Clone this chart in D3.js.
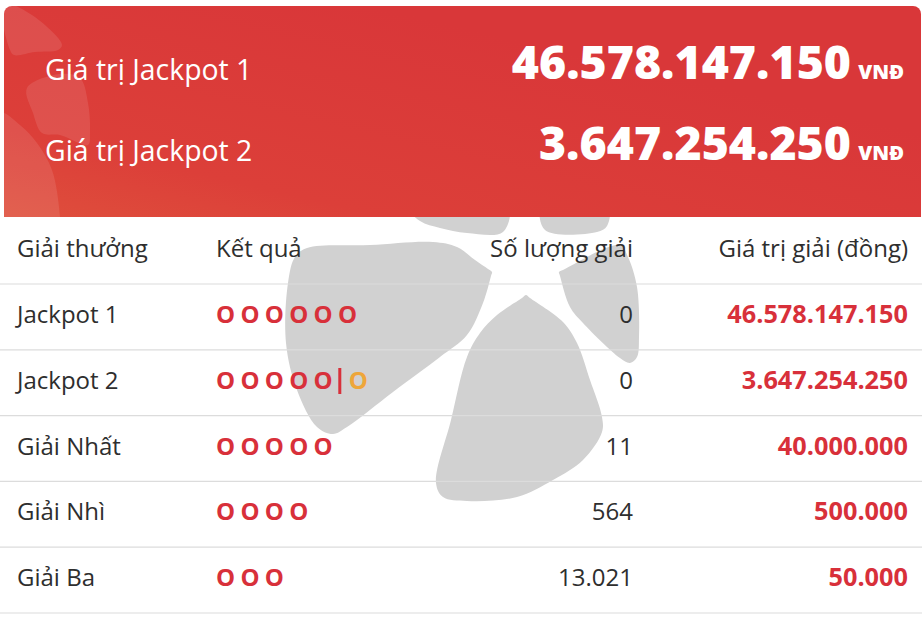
<!DOCTYPE html>
<html>
<head>
<meta charset="utf-8">
<script src="https://cdn.jsdelivr.net/npm/d3@7"></script>
<style>
  html, body { margin: 0; padding: 0; background: #fff; overflow: hidden; }
  svg { display: block; font-family: "Open Sans", sans-serif; }
</style>
</head>
<body>
<script>
const jackpotLabels = ['Giá trị Jackpot 1', 'Giá trị Jackpot 2']
const jackpotValues = ['46.578.147.150', '3.647.254.250']
const currency = 'VNĐ'

const headers = ['Giải thưởng', 'Kết quả', 'Số lượng giải', 'Giá trị giải (đồng)']
const prizes = ['Jackpot 1', 'Jackpot 2', 'Giải Nhất', 'Giải Nhì', 'Giải Ba']
const mainBalls = [6, 5, 5, 4, 3]
const bonusBalls = [0, 1, 0, 0, 0]
const counts = ['0', '0', '11', '564', '13.021']
const amounts = ['46.578.147.150', '3.647.254.250', '40.000.000', '500.000', '50.000']

const width = 922
const height = 620
const red = '#d8303a'
const orange = '#eea63a'
const ink = '#2e2e2e'

const svg = d3.select('body').append('svg')
  .attr('width', width)
  .attr('height', height)

// 比例尺
const rowY = d3.scaleBand().domain(prizes).range([284, 613])
const ballX = d3.scaleLinear().domain([0, 1]).range([216, 240.4])
const headerY = d3.scaleBand().domain(jackpotLabels).range([39, 201])

const blob = d3.line().curve(d3.curveCatmullRomClosed.alpha(0.5))

// 背景 watermark
const watermark = [
  [[405,205],[420,221],[440,228],[467,233],[503,232],[508,205]],
  [[542,205],[545,230],[597,232],[607,226],[608,205]],
  [[307,248],[370,245],[433,242],[457,247],[475,260],[488,269],[492,272],[491,276],[483,303],[467,335],[440,357],[393,392],[347,427],[333,434],[317,427],[297,390],[286,343],[288,283],[295,257]],
  [[522,298],[526,295],[530,298],[563,322],[577,343],[590,380],[602,417],[602,432],[583,460],[553,480],[517,497],[467,501],[443,497],[436,483],[451,420],[467,357],[480,333],[497,315]],
  [[559,272],[563,270],[620,245],[628,257],[637,287],[639,337],[637,357],[630,363],[620,358],[583,323],[570,307],[560,276]]
]
svg.append('g').selectAll('path')
  .data(watermark)
  .join('path')
  .attr('d', blob)
  .attr('fill', '#d1d1d1')

// banner
const defs = svg.append('defs')
const grad = defs.append('linearGradient')
  .attr('id', 'banner')
  .attr('x1', '0%').attr('y1', '100%')
  .attr('x2', '70%').attr('y2', '30%')
grad.append('stop').attr('offset', '0%').attr('stop-color', '#df4f3c')
grad.append('stop').attr('offset', '30%').attr('stop-color', '#dc3f39')
grad.append('stop').attr('offset', '100%').attr('stop-color', '#d93739')

defs.append('clipPath').attr('id', 'bannerClip')
  .append('path')
  .attr('d', 'M4,217V14a8,8 0 0 1 8,-8H913a8,8 0 0 1 8,8V217Z')

const banner = svg.append('g').attr('clip-path', 'url(#bannerClip)')
banner.append('rect')
  .attr('x', 4).attr('y', 6)
  .attr('width', 917).attr('height', 211)
  .attr('fill', 'url(#banner)')

const bannerPetals = [
  [[2,2],[20,8],[45,25],[62,45],[58,50],[35,52],[14,55],[10,50]],
  [[27,88],[60,74],[80,78],[88,103],[90,133],[88,145],[60,135],[42,133],[33,113]],
  [[0,113],[20,125],[37,143],[52,170],[60,217],[60,240],[0,240]]
]
banner.append('g').selectAll('path')
  .data(bannerPetals)
  .join('path')
  .attr('d', blob)
  .attr('fill', '#fff')
  .attr('fill-opacity', 0.1)

const jackpot = svg.append('g').selectAll('g')
  .data(jackpotLabels)
  .join('g')
  .attr('transform', d => `translate(0,${headerY(d) + headerY.bandwidth() / 2})`)
  .attr('fill', '#fff')

jackpot.append('text')
  .attr('x', 45).attr('y', 0.5)
  .attr('font-size', 28.4)
  .text(d => d)

jackpot.append('text')
  .attr('x', 851).attr('y', -0.5)
  .attr('text-anchor', 'end')
  .attr('font-size', 46.4)
  .attr('font-weight', 800)
  .text((d, i) => jackpotValues[i])

jackpot.append('text')
  .attr('x', 904).attr('y', -1)
  .attr('text-anchor', 'end')
  .attr('font-size', 20.2)
  .attr('font-weight', 800)
  .text(currency)

// 表头
const headerAttrs = [
  { x: 17, anchor: 'start' },
  { x: 216, anchor: 'start' },
  { x: 633, anchor: 'end' },
  { x: 908, anchor: 'end' }
]
svg.append('g').selectAll('text')
  .data(headers)
  .join('text')
  .attr('x', (d, i) => headerAttrs[i].x)
  .attr('y', 257)
  .attr('text-anchor', (d, i) => headerAttrs[i].anchor)
  .attr('font-size', 24)
  .attr('fill', ink)
  .text(d => d)

// 分隔线
svg.append('g').selectAll('line')
  .data(prizes.map(p => rowY(p)).concat(rowY.range()[1]))
  .join('line')
  .attr('x1', 0).attr('x2', width)
  .attr('y1', d => d).attr('y2', d => d)
  .attr('stroke', '#dcdcdc')
  .attr('stroke-width', 1.2)

// 行
const rows = svg.append('g').selectAll('g')
  .data(prizes)
  .join('g')
  .attr('transform', d => `translate(0,${rowY(d) + rowY.bandwidth() / 2})`)

rows.append('text')
  .attr('x', 17).attr('y', 6)
  .attr('font-size', 24)
  .attr('fill', ink)
  .text(d => d)

rows.each(function (d, i) {
  const row = d3.select(this)
  const balls = row.append('g')
    .attr('font-size', 24)
    .attr('font-weight', 700)
    .attr('fill', red)
  balls.selectAll('text')
    .data(d3.range(mainBalls[i]))
    .join('text')
    .attr('x', k => ballX(k))
    .attr('y', 6)
    .text('O')

  if (bonusBalls[i] > 0) {
    const barX = ballX(mainBalls[i]) + 0.3
    row.append('rect')
      .attr('x', barX).attr('y', -14.7)
      .attr('width', 3).attr('height', 26)
      .attr('fill', red)
    row.append('text')
      .attr('x', barX + 10.5)
      .attr('y', 6)
      .attr('font-size', 24)
      .attr('font-weight', 700)
      .attr('fill', orange)
      .text('O')
  }
})

rows.append('text')
  .attr('x', 633).attr('y', 6)
  .attr('text-anchor', 'end')
  .attr('font-size', 24)
  .attr('fill', ink)
  .text((d, i) => counts[i])

rows.append('text')
  .attr('x', 908).attr('y', 6)
  .attr('text-anchor', 'end')
  .attr('font-size', 25.3)
  .attr('font-weight', 700)
  .attr('fill', red)
  .text((d, i) => amounts[i])
</script>
</body>
</html>
